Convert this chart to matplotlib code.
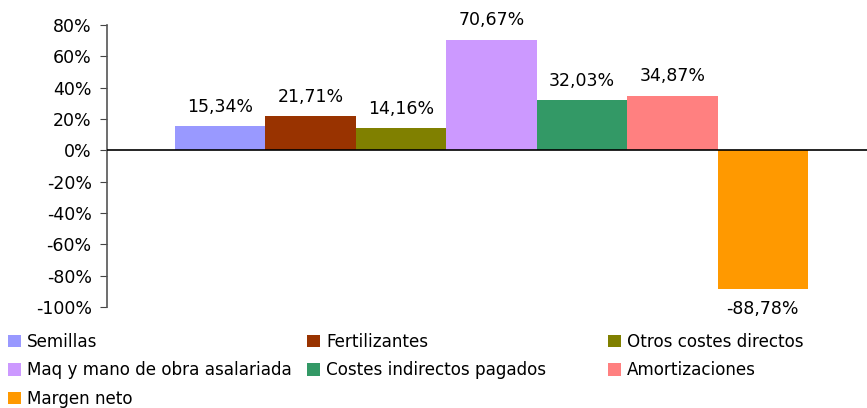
import numpy as np
import matplotlib.pyplot as plt
from matplotlib.ticker import FuncFormatter

categories = ['Semillas', 'Fertilizantes', 'Otros costes directos',
              'Maq y mano de obra asalariada', 'Costes indirectos pagados',
              'Amortizaciones', 'Margen neto']
values = [15.34, 21.71, 14.16, 70.67, 32.03, 34.87, -88.78]
colors = ['#9999FF', '#993300', '#808000', '#CC99FF', '#339966', '#FF8080', '#FF9900']
yticks = [-100, -80, -60, -40, -20, 0, 20, 40, 60, 80]

plt.rcParams['font.family'] = ['DejaVu Sans']
fs = 12.5

fig = plt.figure(figsize=(8.67, 4.08), dpi=100)
ax = fig.add_axes([107 / 867, 1 - 307 / 408, 1 - 107 / 867, (307 - 25) / 408])

x = np.arange(len(values))
bars = ax.bar(x, values, width=1.0, color=colors, edgecolor='none', zorder=2)

for xi, v in zip(x, values):
    label = f'{v:.2f}%'.replace('.', ',')
    off = 14 if v >= 0 else -14
    ax.annotate(label, (xi, v), xytext=(0, off), textcoords='offset points',
                ha='center', va='center', fontsize=fs, color='black')

ax.set_xlim(-0.5 - 68 / 90.4, 6.5 + 59 / 90.4)
ax.set_ylim(-100, 80)
ax.set_yticks(yticks)
ax.yaxis.set_major_formatter(FuncFormatter(lambda v, p: f'{v:.0f}%'))
ax.tick_params(axis='y', direction='out', length=5, labelsize=fs, color='#444444', pad=6)
ax.set_xticks([])
ax.axhline(0, color='black', lw=1.2, zorder=3)
for s in ['top', 'right', 'bottom']:
    ax.spines[s].set_visible(False)
ax.spines['left'].set_color('#555555')
ax.spines['left'].set_linewidth(1.2)

# legend laid out like the source: three equal columns, filled row by row
lfs = 12.1
columns = [[0, 3, 6], [1, 4], [2, 5]]
col_x = [8 / 867, 307 / 867, 608 / 867]
for cx, idx in zip(col_x, columns):
    fig.legend([bars[i] for i in idx], [categories[i] for i in idx],
               loc='upper left', bbox_to_anchor=(cx, 1 - 333 / 408),
               frameon=False, fontsize=lfs, handlelength=0.78, handleheight=0.78,
               handletextpad=0.35, labelspacing=0.62, borderpad=0, borderaxespad=0)

fig.savefig('out.png', dpi=100)
